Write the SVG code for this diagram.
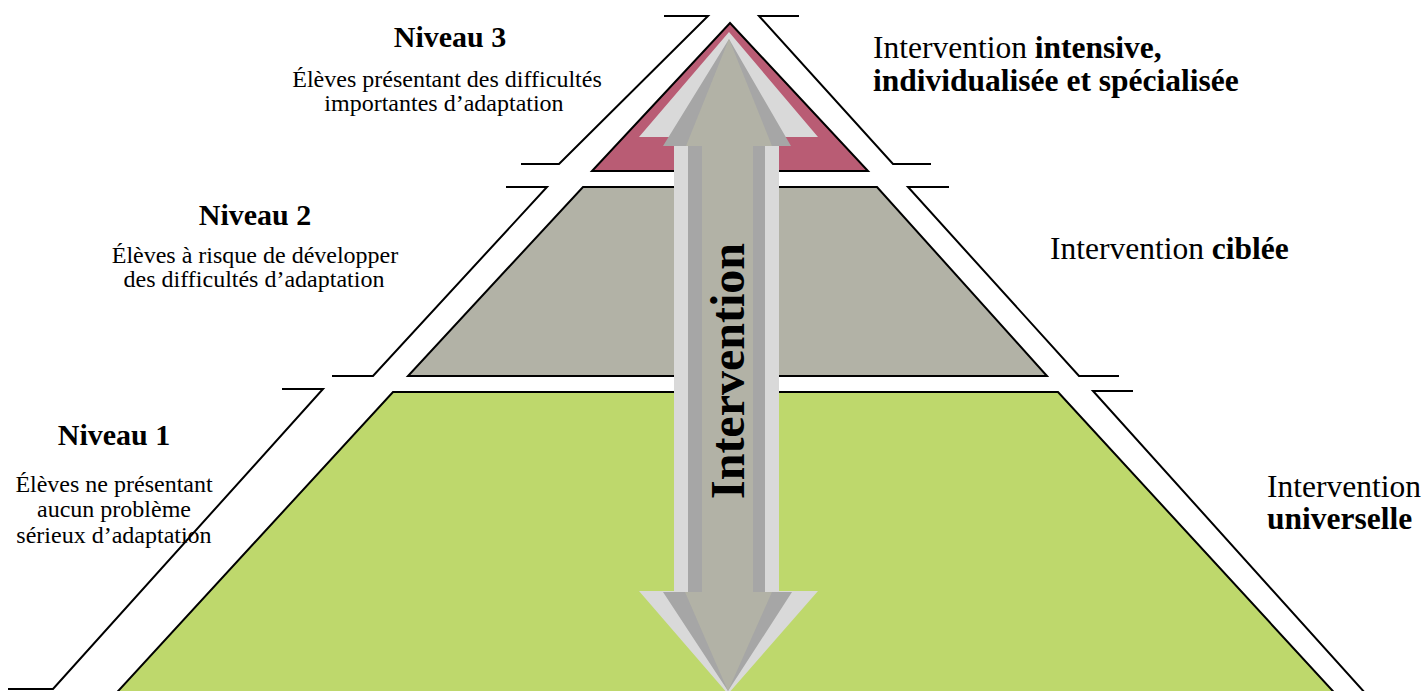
<svg xmlns="http://www.w3.org/2000/svg" width="1425" height="691" viewBox="0 0 1425 691">
<style>
.edge{fill:none;stroke:#000;stroke-width:2;stroke-linejoin:miter}
.lvl{stroke:#000;stroke-width:2;stroke-linejoin:miter}
.t{font-family:"Liberation Serif","Times New Roman",serif;fill:#000}
.h{font-size:30px;font-weight:bold;text-anchor:middle}
.d{font-size:24px;text-anchor:middle}
.r{font-size:31.5px}
.b{font-weight:bold}
.lt{fill:#D9D9D9}
.dk{fill:#A6A6A6}
.kh{fill:#B2B2A6}
</style>
<rect width="1425" height="691" fill="#fff"/>
<g id="level1">
<polygon class="lvl" points="393,392 1058,392 1342,701 109,701" fill="#BED86C"/>
</g>
<g id="level2">
<polygon class="lvl" points="583,187 877,187 1047,376 408,376" fill="#B2B2A6"/>
</g>
<g id="level3">
<polygon class="lvl" points="730,23 868,171 592,171" fill="#B95C74"/>
</g>
<g id="brackets">
<polyline class="edge" points="664,16 708,16 559,164 521,164"/>
<polyline class="edge" points="799,16 759,16 893,164 931,164"/>
<polyline class="edge" points="506,187 547,187 373,376 332,376"/>
<polyline class="edge" points="949,187 908,187 1079,376 1119,376"/>
<polyline class="edge" points="282,389 323,389 53,689 8,689"/>
<polyline class="edge" points="1133,391 1093,391 1366,694"/>
</g>
<g id="arrow">
<polygon class="lt" points="729,32 818,137 779,137 779,591 818,591 728,694 639,591 674,591 674,137 639,137"/>
<polygon class="dk" points="729,39 791,146 765,146 765,592 792,592 728,691 663,592 688,592 688,146 663,146"/>
<polygon class="kh" points="729,39 772,146 753,146 753,592 772,592 728,691 685,592 702,592 702,146 686,146"/>
<text class="t b" font-size="48" text-anchor="middle" transform="translate(744,371) rotate(-90)">Intervention</text>
</g>
<g id="label3">
<text class="t h" x="450" y="47">Niveau 3</text>
<text class="t d" x="447" y="87">Élèves présentant des difficultés</text>
<text class="t d" x="444" y="111">importantes d’adaptation</text>
</g>
<g id="label2">
<text class="t h" x="255" y="225">Niveau 2</text>
<text class="t d" x="255" y="263">Élèves à risque de développer</text>
<text class="t d" x="254" y="287">des difficultés d’adaptation</text>
</g>
<g id="label1">
<text class="t h" x="114" y="445">Niveau 1</text>
<text class="t d" x="114" y="492">Élèves ne présentant</text>
<text class="t d" x="114" y="517">aucun problème</text>
<text class="t d" x="114" y="543">sérieux d’adaptation</text>
</g>
<g id="int3">
<text class="t r" x="873" y="58">Intervention <tspan class="b">intensive,</tspan></text>
<text class="t r b" x="873" y="91">individualisée et spécialisée</text>
</g>
<g id="int2">
<text class="t r" x="1050" y="259">Intervention <tspan class="b">ciblée</tspan></text>
</g>
<g id="int1">
<text class="t r" x="1267" y="497">Intervention</text>
<text class="t r b" x="1267" y="529">universelle</text>
</g>
</svg>
